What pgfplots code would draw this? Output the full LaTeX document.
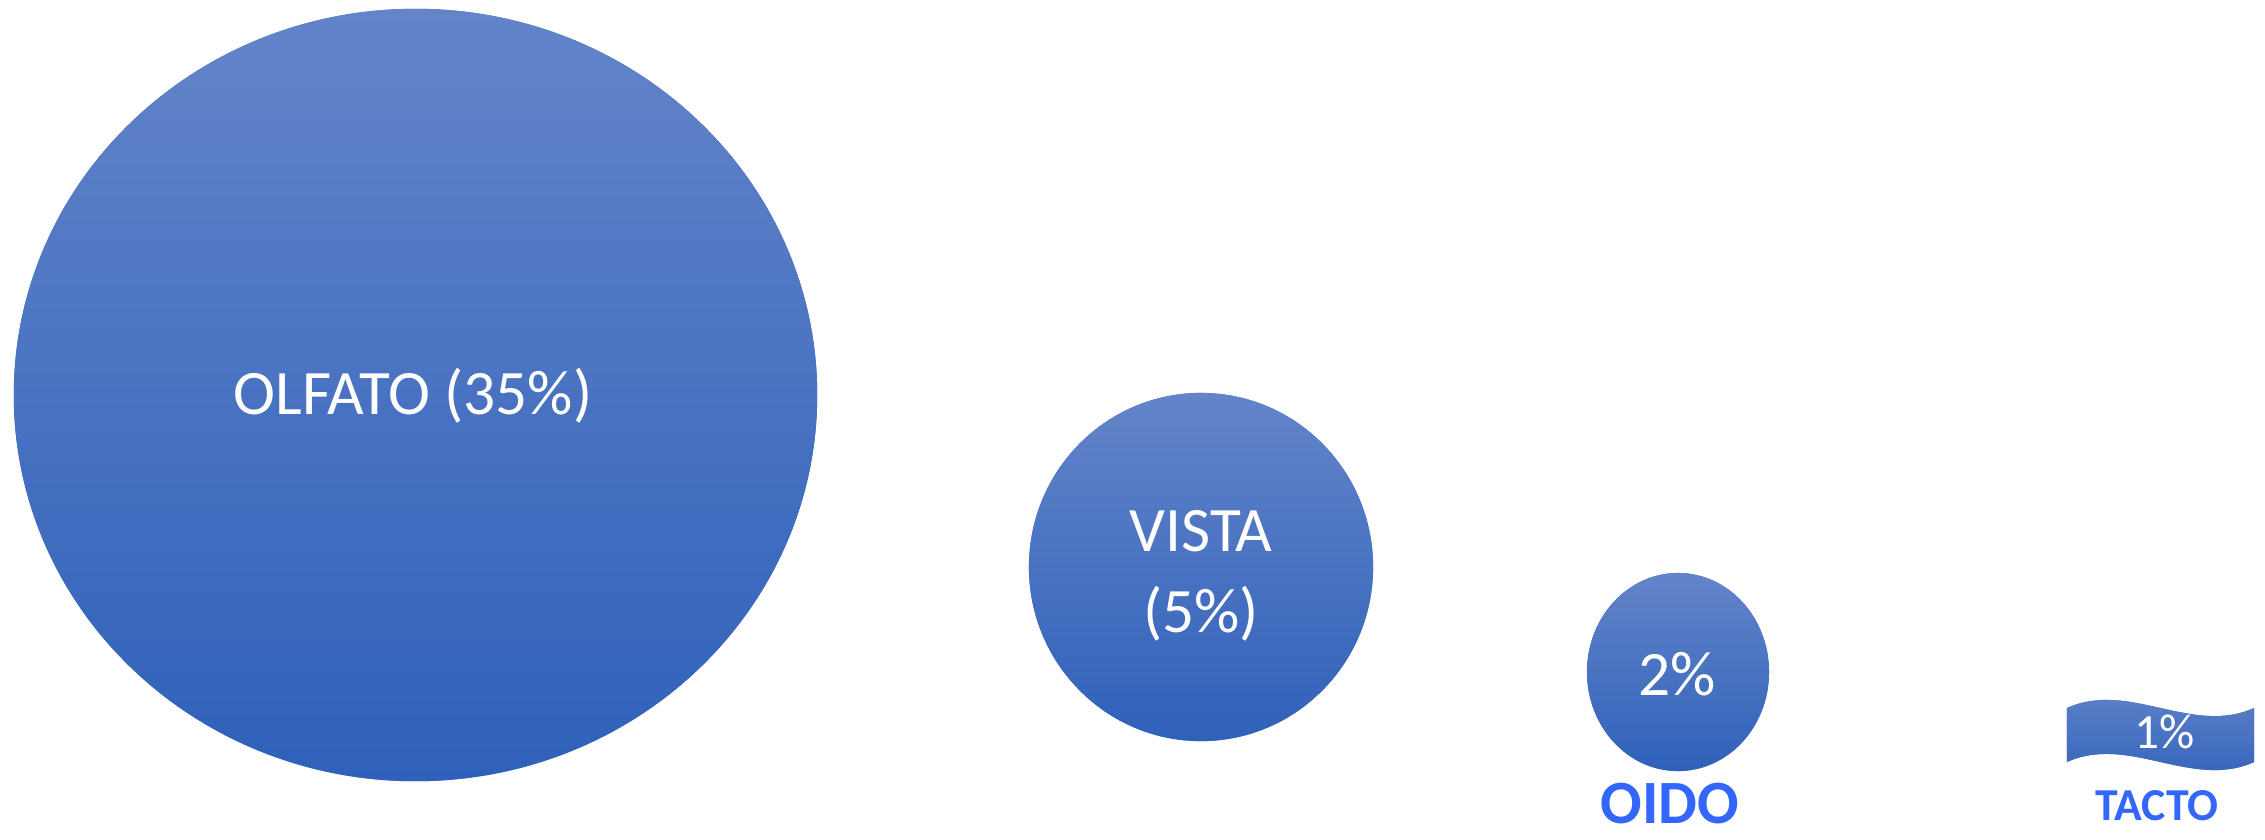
\documentclass[border=0pt]{standalone}
\usepackage{pgfplots}
\pgfplotsset{compat=1.18}
\usepackage{pgfplotstable}
\usepackage{fontspec}
\setmainfont{Carlito}
\definecolor{ctop}{RGB}{99,132,201}
\definecolor{cmid}{RGB}{70,114,196}
\definecolor{cbot}{RGB}{47,97,186}
\definecolor{lblue}{RGB}{51,102,250}
\pgfdeclareverticalshading{blueshade}{100bp}{color(0bp)=(cbot); color(25bp)=(cbot); color(75bp)=(ctop); color(100bp)=(ctop)}
\newcommand\ovalpath{\pgfpathellipse{\pgfpointorigin}{\pgfpoint{\rx pt}{0pt}}{\pgfpoint{0pt}{\ry pt}}}
\newcommand\wavepath{%
  \pgfpathmoveto{\pgfpoint{-\rx pt}{\ry pt}}%
  \pgfpathcurveto{\pgfpoint{-\rx pt/3}{\ry pt+\wk pt}}{\pgfpoint{\rx pt/3}{\ry pt-\wk pt}}{\pgfpoint{\rx pt}{\ry pt}}%
  \pgfpathlineto{\pgfpoint{\rx pt}{-\ry pt}}%
  \pgfpathcurveto{\pgfpoint{\rx pt/3}{-\ry pt-\wk pt}}{\pgfpoint{-\rx pt/3}{-\ry pt+\wk pt}}{\pgfpoint{-\rx pt}{-\ry pt}}%
  \pgfpathclose}
\pgfdeclareplotmark{ovalmark}{%
  \pgfsetfillcolor{cmid}\ovalpath\pgfusepath{fill}%
  \ovalpath\pgfshadepath{blueshade}{0}\pgfusepath{discard}}
\pgfdeclareplotmark{wavemark}{%
  \pgfsetfillcolor{cmid}\wavepath\pgfusepath{fill}%
  \wavepath\pgfshadepath{blueshade}{0}\pgfusepath{discard}}
\pgfplotstableread{
cx cy rx ry
415.5 395 401.5 386
1201 567 172 174
1678 672 91 99
}\ovals
\pgfplotstableread{
cx cy rx ry k
2160.5 735 93.5 27 28
}\waves
\begin{document}
\begin{tikzpicture}
\begin{axis}[name=ax, x=0.01cm, y=0.01cm, y dir=reverse,
  xmin=0, xmax=2265, ymin=0, ymax=839,
  axis line style={draw=none}, xtick=\empty, ytick=\empty,
  clip=false]
\addplot[scatter, only marks, mark=ovalmark, point meta=\thisrow{rx},
  visualization depends on={0.284528*\thisrow{rx}\as\rx},
  visualization depends on={0.284528*\thisrow{ry}\as\ry}]
  table[x=cx, y=cy] {\ovals};
\addplot[scatter, only marks, mark=wavemark, point meta=\thisrow{rx},
  visualization depends on={0.284528*\thisrow{rx}\as\rx},
  visualization depends on={0.284528*\thisrow{ry}\as\ry},
  visualization depends on={0.284528*\thisrow{k}\as\wk}]
  table[x=cx, y=cy] {\waves};
\coordinate (t1) at (axis cs:413,396);
\coordinate (t2) at (axis cs:1201,576);
\coordinate (t3) at (axis cs:1677,674);
\coordinate (t4) at (axis cs:2165,732);
\coordinate (t5) at (axis cs:1670,804);
\coordinate (t6) at (axis cs:2157,806);
\end{axis}
\node[white, font=\fontsize{18}{22}\selectfont] at (t1) {OLFATO (35\%)};
\node[white, align=center, font=\fontsize{18}{23}\selectfont] at (t2) {VISTA\\(5\%)};
\node[white, font=\fontsize{18}{22}\selectfont] at (t3) {2\%};
\node[white, font=\fontsize{14}{17}\selectfont] at (t4) {1\%};
\node[lblue, inner sep=1pt, font=\fontsize{17.5}{21}\selectfont\bfseries] at (t5) {OIDO};
\node[lblue, inner sep=1pt, font=\fontsize{13}{16}\selectfont\bfseries] at (t6) {TACTO};
\pgfresetboundingbox
\path (ax.south west) rectangle (ax.north east);
\end{tikzpicture}
\end{document}
